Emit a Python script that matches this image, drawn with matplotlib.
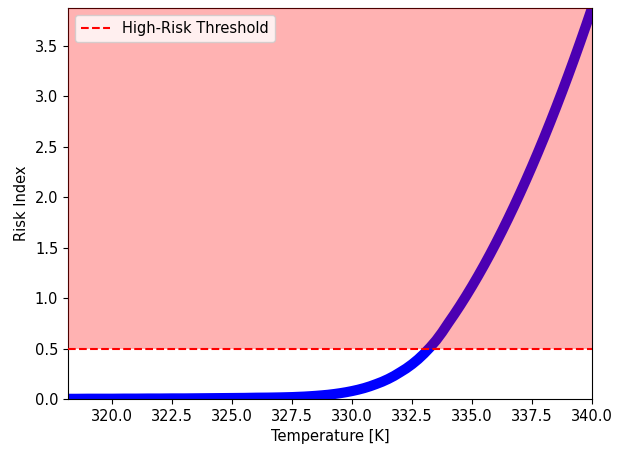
import matplotlib
matplotlib.use("Agg")
import matplotlib.pyplot as plt
import numpy as np

plt.rcParams['font.size'] = 10.5

temperature = [318.0, 318.5, 319.0, 319.5, 320.0, 320.5, 321.0, 321.5, 322.0, 322.5,
               323.0, 323.5, 324.0, 324.5, 325.0, 325.5, 326.0, 326.5, 327.0, 327.5,
               328.0, 328.25, 328.5, 328.75, 329.0, 329.25, 329.5, 329.75,
               330.0, 330.25, 330.5, 330.75, 331.0, 331.25, 331.5, 331.75,
               332.0, 332.25, 332.5, 332.75, 333.0, 333.25, 333.5, 333.75,
               334.0, 334.25, 334.5, 334.75, 335.0, 335.25, 335.5, 335.75,
               336.0, 336.25, 336.5, 336.75, 337.0, 337.25, 337.5, 337.75,
               338.0, 338.25, 338.5, 338.75, 339.0, 339.25, 339.5, 339.75, 340.0]
risk_index = [0.002, 0.002, 0.003, 0.003, 0.003, 0.004, 0.004, 0.005, 0.005, 0.006,
              0.006, 0.007, 0.008, 0.009, 0.010, 0.011, 0.013, 0.014, 0.016, 0.019,
              0.0240, 0.0276, 0.0317, 0.0365, 0.0420, 0.0492, 0.0576, 0.0675,
              0.0790, 0.0924, 0.1080, 0.1265, 0.1480, 0.1710, 0.1980, 0.2290,
              0.2650, 0.3020, 0.3450, 0.3940, 0.4500, 0.5120, 0.5810, 0.6610,
              0.7500, 0.8365, 0.9268, 1.0209, 1.1188, 1.2205, 1.3260, 1.4353,
              1.5484, 1.6653, 1.7860, 1.9105, 2.0388, 2.1709, 2.3068, 2.4465,
              2.5900, 2.7373, 2.8884, 3.0433, 3.2020, 3.3645, 3.5308, 3.7009, 3.8748]
threshold = 0.5
x_limits = (318.15, 340.0)

fig = plt.figure(figsize=(6.21, 4.49), dpi=100)
ax = fig.add_axes([68/621, 1-399/449, (592-68)/621, (399-8)/449])

ax.plot(temperature, risk_index, color='blue', lw=7.3, solid_capstyle='round',
        solid_joinstyle='round', zorder=2)
ymax = max(risk_index)
ax.axhspan(threshold, ymax, color='red', alpha=0.3, lw=0, zorder=3)
ax.axhline(threshold, color='red', linestyle='--', lw=1.5, label='High-Risk Threshold', zorder=4)

ax.set_xlim(*x_limits)
ax.set_ylim(0, ymax)
ax.set_xticks(np.arange(320, 340.1, 2.5))
ax.set_xlabel('Temperature [K]')
ax.set_ylabel('Risk Index')
ax.legend(loc='upper left')

fig.savefig('out.png', dpi=100)
